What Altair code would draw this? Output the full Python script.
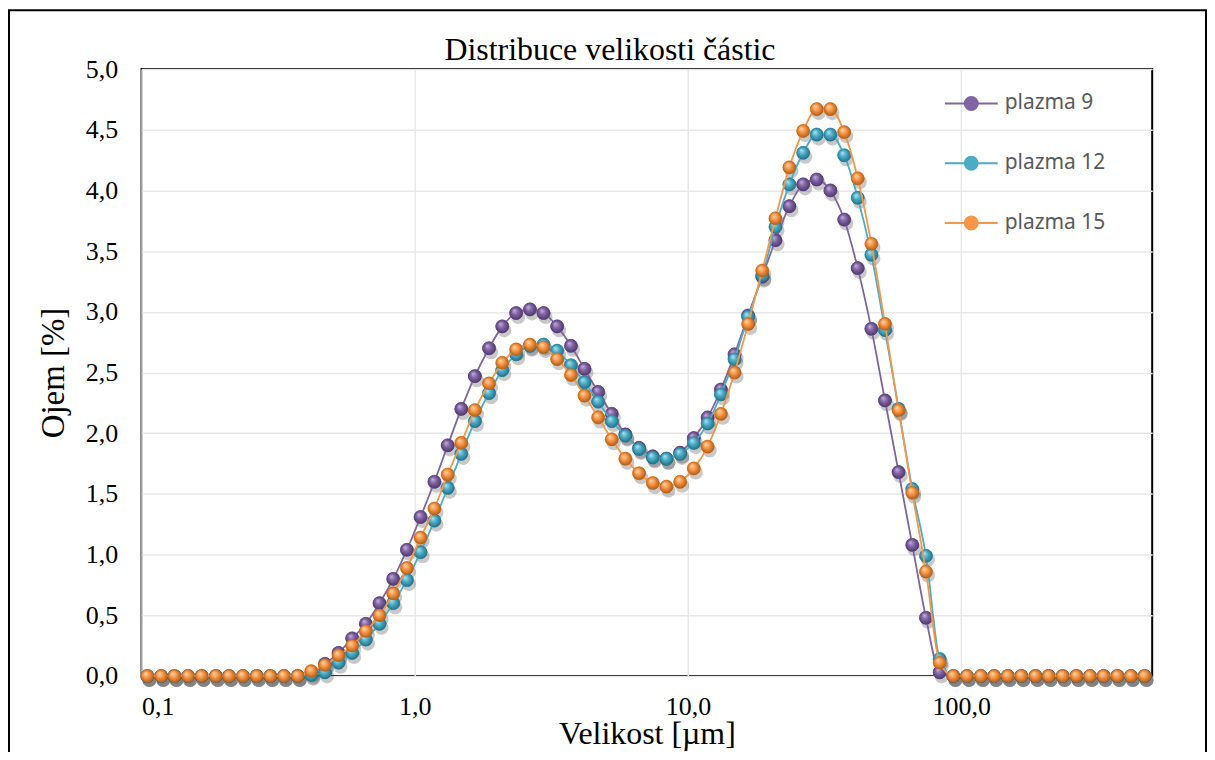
import altair as alt
import pandas as pd

# particle size [µm] (log-spaced measurement channels)
velikost = [
    0.105, 0.118, 0.132, 0.148, 0.166, 0.187, 0.209, 0.235, 0.264, 0.296,
    0.332, 0.373, 0.418, 0.469, 0.526, 0.590, 0.662, 0.743, 0.834, 0.936,
    1.05, 1.18, 1.32, 1.48, 1.66, 1.87, 2.09, 2.35, 2.64, 2.96,
    3.32, 3.73, 4.18, 4.69, 5.26, 5.90, 6.62, 7.43, 8.34, 9.36,
    10.5, 11.8, 13.2, 14.8, 16.6, 18.7, 20.9, 23.5, 26.4, 29.6,
    33.2, 37.3, 41.8, 46.9, 52.6, 59.0, 66.2, 74.3, 83.4, 93.6,
    105, 118, 132, 148, 166, 187, 209, 235, 264, 296,
    332, 373, 418, 469,
]

plazma_9 = [
    0, 0, 0, 0, 0, 0, 0, 0, 0, 0, 0, 0,
    0.02, 0.10, 0.19, 0.31, 0.43, 0.60, 0.80, 1.04,
    1.31, 1.60, 1.90, 2.20, 2.47, 2.70, 2.88, 2.99, 3.02, 2.99,
    2.88, 2.72, 2.53, 2.34, 2.16, 1.99, 1.88, 1.81, 1.79, 1.84,
    1.96, 2.13, 2.36, 2.65, 2.97, 3.29, 3.59, 3.87, 4.05, 4.09,
    4.00, 3.76, 3.36, 2.86, 2.27, 1.68, 1.08, 0.48, 0.03, 0.00,
    0, 0, 0, 0, 0, 0, 0, 0, 0, 0, 0, 0, 0, 0,
]

plazma_12 = [
    0, 0, 0, 0, 0, 0, 0, 0, 0, 0, 0, 0,
    0.01, 0.03, 0.11, 0.19, 0.30, 0.43, 0.60, 0.79,
    1.02, 1.28, 1.55, 1.83, 2.10, 2.33, 2.52, 2.65, 2.72, 2.73,
    2.68, 2.56, 2.42, 2.26, 2.10, 1.98, 1.87, 1.80, 1.79, 1.83,
    1.92, 2.08, 2.32, 2.61, 2.96, 3.30, 3.70, 4.05, 4.31, 4.46,
    4.46, 4.29, 3.94, 3.47, 2.85, 2.20, 1.54, 0.99, 0.14, 0.00,
    0, 0, 0, 0, 0, 0, 0, 0, 0, 0, 0, 0, 0, 0,
]

plazma_15 = [
    0, 0, 0, 0, 0, 0, 0, 0, 0, 0, 0, 0,
    0.04, 0.09, 0.17, 0.25, 0.37, 0.50, 0.68, 0.89,
    1.14, 1.38, 1.66, 1.92, 2.19, 2.41, 2.58, 2.69, 2.73, 2.71,
    2.61, 2.48, 2.31, 2.13, 1.95, 1.79, 1.67, 1.59, 1.56, 1.60,
    1.71, 1.89, 2.16, 2.50, 2.90, 3.34, 3.77, 4.19, 4.49, 4.67,
    4.67, 4.48, 4.10, 3.56, 2.90, 2.19, 1.51, 0.86, 0.11, 0.00,
    0, 0, 0, 0, 0, 0, 0, 0, 0, 0, 0, 0, 0, 0,
]

serie_names = ["plazma 9", "plazma 12", "plazma 15"]
line_colors = ["#8064a2", "#4bacc6", "#f79646"]
ball_light = ["#c7b3e0", "#b3e6f4", "#fdd9b0"]
ball_dark = ["#4a3268", "#1d6a80", "#a8550f"]

chart_title = "Distribuce velikosti částic"
x_title = "Velikost [µm]"
y_title = "Ojem [%]"
x_ticks = [0.1, 1, 10, 100]
y_ticks = [0, 0.5, 1, 1.5, 2, 2.5, 3, 3.5, 4, 4.5, 5]

rows = []
for name, vals in zip(serie_names, [plazma_9, plazma_12, plazma_15]):
    for i, (xv, yv) in enumerate(zip(velikost, vals)):
        rows.append({"velikost": xv, "ojem": yv, "serie": name, "poradi": i})
df = pd.DataFrame(rows)

comma = "replace(format(datum.value, '.1f'), '.', ',')"

x_enc = alt.X(
    "velikost:Q",
    scale=alt.Scale(type="log", domain=[0.1, 500], nice=False),
    axis=alt.Axis(values=x_ticks, labelExpr=comma, title=x_title,
                  labelPadding=18, tickSize=0, titleY=68, titleFontSize=32,
                  titleBaseline="alphabetic"),
)
y_enc = alt.Y(
    "ojem:Q",
    scale=alt.Scale(domain=[0, 5], nice=False),
    axis=alt.Axis(values=y_ticks, labelExpr=comma, title=y_title,
                  labelPadding=24, tickSize=0, titleX=-88,
                  titleBaseline="middle"),
)

base = alt.Chart(df)

legend_path = ("M-1,0L-0.245,0M0.245,0L1,0"
               "M-0.245,0A0.245,0.245 0 1,0 0.245,0A0.245,0.245 0 1,0 -0.245,0Z")
leg = alt.Legend(
    title=None, orient="none", legendX=805, legendY=7, padding=0,
    symbolType=legend_path, symbolSize=2809, symbolStrokeWidth=2,
    labelFont="Noto Sans", labelFontSize=21, labelColor="#595959",
    labelOffset=6, rowPadding=22,
)
col_scale = alt.Scale(domain=serie_names, range=line_colors)

legend_points = base.mark_point(filled=True, size=170, strokeWidth=1, opacity=1).encode(
    x=x_enc, y=y_enc,
    fill=alt.Fill("serie:N", scale=col_scale, legend=leg),
    stroke=alt.Stroke("serie:N", scale=col_scale, legend=leg),
)

shadows = base.mark_circle(color="#3a3a3a", opacity=0.28, size=200,
                           xOffset=2, yOffset=4).encode(x=x_enc, y=y_enc)

layers = []
for name, lc, light, dark in zip(serie_names, line_colors, ball_light, ball_dark):
    sub = base.transform_filter(alt.datum.serie == name)
    line = sub.mark_line(color=lc, strokeWidth=1.8, interpolate="monotone").encode(
        x=x_enc, y=y_enc, order="poradi:Q")
    grad = alt.RadialGradient(
        gradient="radial", x1=0.35, y1=0.3, r1=0.0, x2=0.5, y2=0.5, r2=0.55,
        stops=[alt.GradientStop(offset=0, color=light),
               alt.GradientStop(offset=0.45, color=lc),
               alt.GradientStop(offset=1, color=dark)])
    balls = sub.mark_point(filled=True, shape="circle", size=175, fill=grad,
                           strokeOpacity=0, opacity=1).encode(x=x_enc, y=y_enc)
    layers += [line, balls]

border = alt.Chart(alt.Data(values=[{}])).mark_rect(
    fill="transparent", stroke="black", strokeWidth=2
).encode(x=alt.value(-133), x2=alt.value(1068), y=alt.value(-59), y2=alt.value(760))

title_text = alt.Chart(alt.Data(values=[{}])).mark_text(
    font="Liberation Serif", fontSize=32, color="black", align="center",
    baseline="alphabetic"
).encode(x=alt.value(470), y=alt.value(-9), text=alt.value(chart_title))

chart = alt.layer(border, title_text, legend_points, shadows, *layers).properties(
    width=1014, height=609,
    autosize=alt.AutoSizeParams(type="none"),
    padding={"left": 134, "top": 60, "right": 55, "bottom": 75},
).configure_view(stroke="black", strokeWidth=2).configure_axis(
    labelFont="Liberation Serif", labelFontSize=26, labelColor="black",
    titleFont="Liberation Serif", titleFontSize=33, titleFontWeight="normal",
    titleColor="black", gridColor="#e8e8e8", gridWidth=1.5, domain=False, ticks=False,
)

chart.save("out.html", embed_options={"renderer": "svg", "actions": False})
